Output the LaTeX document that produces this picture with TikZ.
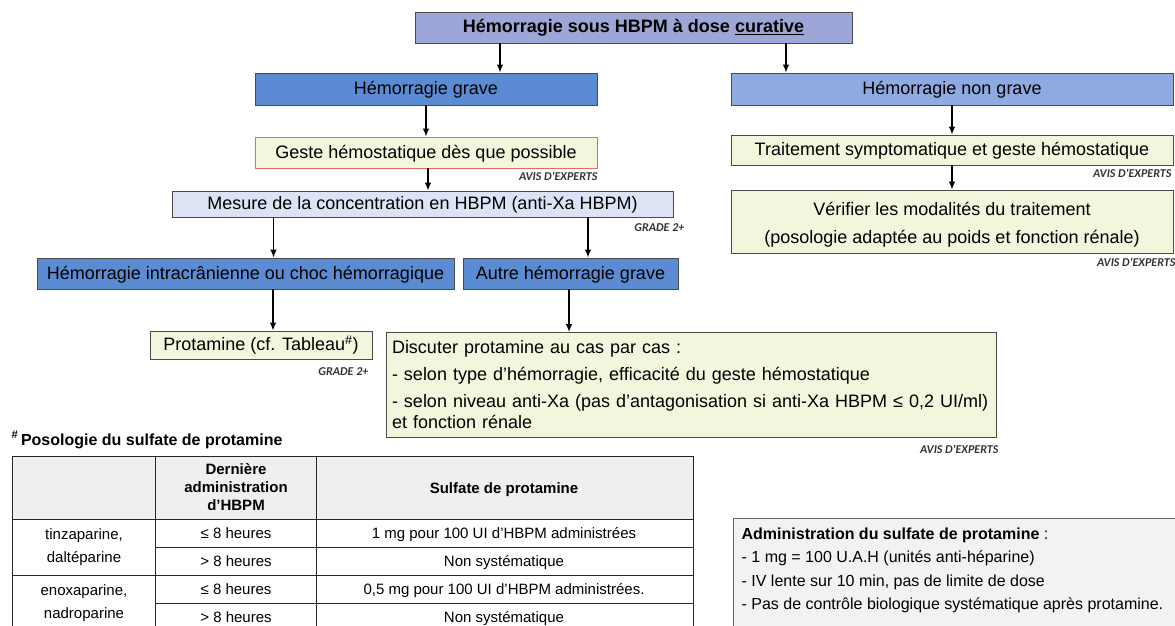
\documentclass[tikz,border=0pt]{standalone}
\usepackage{fontspec}
\setmainfont{Liberation Sans}
\newfontfamily\avisfont{Carlito}
\usetikzlibrary{positioning,arrows.meta}
\definecolor{topfill}{HTML}{9DA6D7}
\definecolor{gravefill}{HTML}{5B8BD2}
\definecolor{nongravefill}{HTML}{8EAAE0}
\definecolor{mesurefill}{HTML}{DCE3F4}
\definecolor{creamfill}{HTML}{F4F5DD}
\definecolor{gestered}{HTML}{E46B6B}
\definecolor{boxline}{HTML}{4A4A4A}
\definecolor{headfill}{HTML}{EFEFEF}
\definecolor{adminfill}{HTML}{F2F2F2}
\tikzstyle{multiblock} = [draw=boxline, line width=0.8pt, rectangle, inner sep=0pt, font=\fontsize{18}{21}\selectfont]
\tikzstyle{block} = [multiblock, text height=13pt, text depth=2pt]
\tikzstyle{grave} = [block, fill=gravefill]
\tikzstyle{cream} = [block, fill=creamfill]
\tikzstyle{avis} = [anchor=east, inner sep=0pt, text=black!80, font=\avisfont\bfseries\itshape\fontsize{12}{14}\selectfont]
\tikzstyle{cell} = [inner sep=0pt, align=center, font=\fontsize{15}{23}\selectfont]
\tikzstyle{onecell} = [cell, text height=11pt, text depth=1pt]
\tikzstyle{tabline} = [-, draw=black!85, line width=0.8pt]

\begin{document}
\begin{tikzpicture}[x=1pt,y=-1pt,->,>={Latex[length=8pt,width=6.5pt]},line width=1.3pt]
	\useasboundingbox (0,0) rectangle (1175,626);
	% flowchart
	\node (top) [block, fill=topfill, minimum width=437, minimum height=31] at (633.5,27.5) {\textbf{Hémorragie sous HBPM à dose \underline{curative}}};
	\node (grave) [grave, minimum width=342, minimum height=32] at (426,89) {Hémorragie grave};
	\node (nongrave) [block, fill=nongravefill, minimum width=442, minimum height=32] at (952,89) {Hémorragie non grave};
	\node (geste) [cream, draw=gestered, minimum width=342, minimum height=31] at (426,152.5) {Geste hémostatique dès que possible};
	\node (mesure) [block, fill=mesurefill, minimum width=501, minimum height=26] at (422.5,204) {Mesure de la concentration en HBPM (anti-Xa HBPM)};
	\node (intra) [grave, minimum width=417, minimum height=31] at (245.5,273.5) {Hémorragie intracrânienne ou choc hémorragique};
	\node (autre) [grave, minimum width=215, minimum height=31] at (570.5,273.5) {Autre hémorragie grave};
	\node (prot) [cream, minimum width=222, minimum height=28] at (261,345) {Protamine (cf. Tableau\textsuperscript{\#})};
	\node (discuter) [multiblock, fill=creamfill, align=left, inner xsep=6pt, text width=598, minimum height=105] at (691,385) {Discuter protamine au cas par cas :\\[6pt]
		- selon type d'hémorragie, efficacité du geste hémostatique\\[6pt]
		- selon niveau anti-Xa (pas d'antagonisation si anti-Xa HBPM ≤ 0,2 UI/ml)\\
		et fonction rénale};
	\node (traitement) [cream, minimum width=442, minimum height=30] at (952,150) {Traitement symptomatique et geste hémostatique};
	\node (verifier) [multiblock, fill=creamfill, align=center, font=\fontsize{18}{28}\selectfont, minimum width=442, minimum height=63] at (952,221.5) {\strut Vérifier les modalités du traitement\\(posologie adaptée au poids et fonction rénale)};

	\node (avisgeste) [avis] at (598,176) {AVIS D'EXPERTS};
	\node (gradmesure) [avis] at (685,228) {GRADE 2+};
	\node (gradprot) [avis] at (369,372) {GRADE 2+};
	\node (avisdisc) [avis] at (999,449) {AVIS D'EXPERTS};
	\node (avistrait) [avis] at (1172,173) {AVIS D'EXPERTS};
	\node (avisverif) [avis] at (1176,262) {AVIS D'EXPERTS};

	\draw ([xshift=74pt]grave.north |- top.south) -- ([xshift=74pt]grave.north);
	\draw ([xshift=-166pt]nongrave.north |- top.south) -- ([xshift=-166pt]nongrave.north);
	\draw (grave) -- (geste);
	\draw ([xshift=2pt]geste.south) -- ([xshift=2pt]geste.south |- mesure.north);
	\draw ([xshift=28pt]intra.north |- mesure.south) -- ([xshift=28pt]intra.north);
	\draw ([xshift=17.5pt]autre.north |- mesure.south) -- ([xshift=17.5pt]autre.north);
	\draw ([xshift=12pt]prot.north |- intra.south) -- ([xshift=12pt]prot.north);
	\draw ([xshift=-1.5pt]autre.south) -- ([xshift=-1.5pt]autre.south |- discuter.north);
	\draw (nongrave) -- (traitement);
	\draw (traitement) -- (verifier);

	% table
	\node (tabtitle) [anchor=west, inner sep=0pt, font=\bfseries\fontsize{16}{19}\selectfont] at (11,440) {\textsuperscript{\#}\,Posologie du sulfate de protamine};
	\fill[headfill] (12,456) rectangle (693,519);
	\fill[white] (12,519) rectangle (693,640);
	\draw[tabline] (12,456) rectangle (693,640);
	\draw[tabline] (155,456) -- (155,640);
	\draw[tabline] (316,456) -- (316,640);
	\draw[tabline] (12,519) -- (693,519);
	\draw[tabline] (155,547) -- (693,547);
	\draw[tabline] (12,575) -- (693,575);
	\draw[tabline] (155,603) -- (693,603);
	\node (hdlast) [cell, font=\bfseries\fontsize{15}{18}\selectfont] at (236,487) {Dernière\\administration\\d'HBPM};
	\node (hdsulf) [onecell, font=\bfseries\fontsize{15}{18}\selectfont] at (504,488) {Sulfate de protamine};
	\node (tinza) [cell] at (84,547) {tinzaparine,\\daltéparine};
	\node (enoxa) [cell] at (84,603) {enoxaparine,\\nadroparine};
	\node (tinzalt) [onecell] at (236,533) {≤ 8 heures};
	\node (tinzagt) [onecell] at (236,561) {> 8 heures};
	\node (enoxalt) [onecell] at (236,589) {≤ 8 heures};
	\node (enoxagt) [onecell] at (236,617) {> 8 heures};
	\node (tinzados) [onecell] at (504,533) {1 mg pour 100 UI d'HBPM administrées};
	\node (tinzanon) [onecell] at (504,561) {Non systématique};
	\node (enoxados) [onecell] at (504,589) {0,5 mg pour 100 UI d'HBPM administrées.};
	\node (enoxanon) [onecell] at (504,617) {Non systématique};

	% administration
	\draw[tabline, fill=adminfill, draw=black!60] (733,518) rectangle (1190,640);
	\node (admin) [anchor=north west, inner sep=0pt, align=left, font=\fontsize{16}{23.5}\selectfont] at (741,527) {\textbf{Administration du sulfate de protamine} :\\
		- 1 mg = 100 U.A.H (unités anti-héparine)\\
		- IV lente sur 10 min, pas de limite de dose\\
		- Pas de contrôle biologique systématique après protamine.};
\end{tikzpicture}
\end{document}
